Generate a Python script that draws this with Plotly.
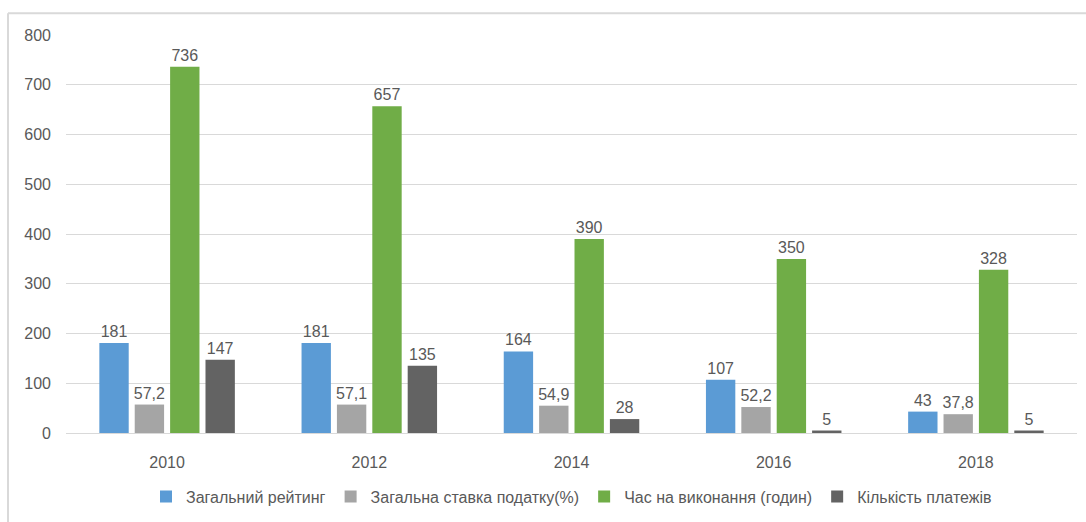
import plotly.graph_objects as go

years = ["2010", "2012", "2014", "2016", "2018"]
overall_rank = [181, 181, 164, 107, 43]
total_tax_rate = [57.2, 57.1, 54.9, 52.2, 37.8]
time_hours = [736, 657, 390, 350, 328]
payments = [147, 135, 28, 5, 5]

series_names = [
    "Загальний рейтинг",
    "Загальна ставка податку(%)",
    "Час на виконання (годин)",
    "Кількість платежів",
]
colors = ["#5b9bd5", "#a5a5a5", "#70ad47", "#636363"]

def fmt(v):
    s = ("%g" % v)
    return s.replace(".", ",")

FONT = "Liberation Sans"
TXT = "#595959"

fig = go.Figure()
for name, vals, col in zip(series_names, [overall_rank, total_tax_rate, time_hours, payments], colors):
    fig.add_trace(go.Bar(
        x=years, y=vals, name=name, marker_color=col,
        marker_line_width=0,
        text=[fmt(v) for v in vals], textposition="outside",
        textfont=dict(family=FONT, size=16, color=TXT),
        constraintext="none",
        cliponaxis=False,
    ))

W, H = 1086, 522
ml, mr, mt, mb = 66, 9, 35, 86
pw, ph = W - ml - mr, H - mt - mb
bx = (8 - ml) / pw
by = 1 + (mt - 13) / ph

fig.update_layout(
    width=W, height=H,
    margin=dict(l=ml, r=mr, t=mt, b=mb),
    paper_bgcolor="white", plot_bgcolor="white",
    barmode="group", bargap=0.30, bargroupgap=0.17,
    font=dict(family=FONT, size=16, color=TXT),
    xaxis=dict(showgrid=False, showline=True, linecolor="#d9d9d9", linewidth=1,
               ticks="", tickfont=dict(size=16, color=TXT), ticklabelstandoff=15),
    yaxis=dict(range=[0, 800], dtick=100, showgrid=True, gridcolor="#d9d9d9",
               gridwidth=1, zeroline=False, showline=False, ticks="",
               tickfont=dict(size=16, color=TXT), ticklabelstandoff=14),
    legend=dict(orientation="h", x=0.5, xanchor="center", y=-(500 - 436) / ph,
                yanchor="middle", font=dict(size=16, color=TXT),
                itemwidth=30, traceorder="normal"),
    showlegend=True,
    shapes=[
        dict(type="line", xref="paper", yref="paper", x0=bx, x1=bx, y0=-0.3, y1=by,
             line=dict(color="#d9d9d9", width=2)),
        dict(type="line", xref="paper", yref="paper", x0=bx, x1=1.05, y0=by, y1=by,
             line=dict(color="#d9d9d9", width=2)),
    ],
)

fig.write_html("out.html", config={"displayModeBar": False},
               post_script="document.body.style.margin='0';")
